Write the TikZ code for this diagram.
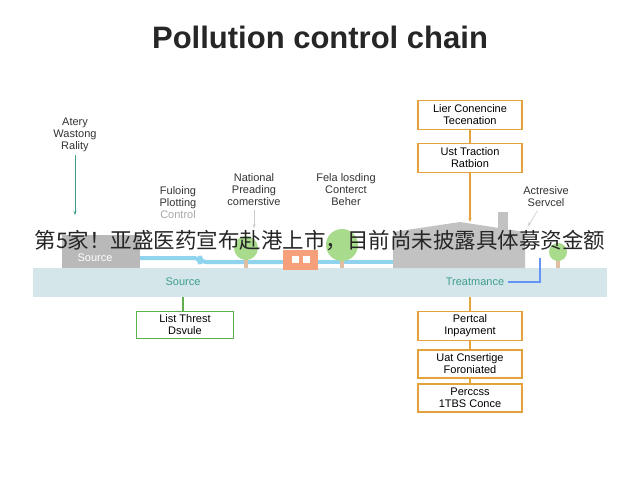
\documentclass[tikz,border=0pt]{standalone}
\usepackage{fontspec}
\setmainfont{Liberation Sans}
\newfontfamily\cjk{Noto Sans CJK SC}
\usetikzlibrary{arrows.meta}
\definecolor{teal1}{HTML}{3E9E8A}
\definecolor{org}{HTML}{E3A23B}
\definecolor{grn}{HTML}{5DB04C}
\definecolor{band}{HTML}{D5E6EA}
\definecolor{pipe}{HTML}{8FD3EE}
\definecolor{gry}{HTML}{A8A8A8}
\definecolor{tree}{HTML}{A9DB8C}
\begin{document}
\begin{tikzpicture}[x=1pt,y=-1pt,
 lbl/.style={font=\fontsize{11}{12}\selectfont,align=center,text=black!80},
 obox/.style={draw=org,line width=1.3pt,fill=white,minimum width=104pt,minimum height=29pt,align=center,font=\fontsize{11}{12}\selectfont},
 gbox/.style={draw=grn,line width=1.3pt,fill=white,minimum width=97pt,minimum height=26pt,align=center,font=\fontsize{11}{12}\selectfont},
 arr/.style={-{Stealth[length=4pt]},line width=0.9pt}]
\useasboundingbox (0,0) rectangle (640,480);
\fill[white] (0,0) rectangle (640,480);
\node[font=\bfseries\fontsize{31}{34}\selectfont,text=black!85] (title) at (320,37) {Pollution control chain};
% band
\fill[band] (33,268) rectangle (607,297);
\node[text=teal1,font=\fontsize{11}{12}\selectfont] (src) at (183,282) {Source};
\node[text=teal1,font=\fontsize{11}{12}\selectfont] (trt) at (475,282) {Treatmance};
\coordinate (pe) at (540,282);
\draw[pipe!70!blue,line width=1.5pt] (trt.east) -- (pe) -- (540,258);
% scene
\fill[gry!80] (62,235) rectangle (140,268);
\node[white,font=\fontsize{11}{12}\selectfont] (ss) at (95,258) {Source};
\draw[pipe,line width=4pt,rounded corners=6pt] (140,258) -- (200,258) -- (200,262) -- (283,262);
\draw[pipe,line width=4pt,rounded corners=6pt] (318,262) -- (393,262);
\fill[gry!70] (393,232) -- (460,222) -- (525,232) -- (525,268) -- (393,268) -- cycle;
\fill[gry!70] (498,212) rectangle (508,232);
\fill[org!60!red!60] (283,250) rectangle (318,270);
\fill[white] (292,256) rectangle (299,263); \fill[white] (303,256) rectangle (310,263);
\foreach \x/\y/\r in {246/248/12, 342/245/16, 558/252/9}{
  \fill[brown!50] (\x-2,\y) rectangle (\x+2,268);
  \fill[tree] (\x,\y) circle (\r);}
% left labels
\node[lbl] (a1) at (75,135) {Atery\\Wastong\\Rality};
\coordinate (a1e) at (75,215);
\draw[arr,teal1] (a1) -- (a1e);
\node[lbl] (a2) at (178,203) {Fuloing\\Plotting\\\textcolor{gry}{Control}};
\node[lbl] (a3) at (254,190) {National\\Preading\\comerstive};
\coordinate (a3e) at (254,228);
\draw[arr,gry!60,line width=0.6pt] (a3) -- (a3e);
\node[lbl] (a4) at (346,190) {Fela losding\\Conterct\\Beher};
\node[lbl] (a5) at (546,197) {Actresive\\Servcel};
\coordinate (a5e) at (528,226);
\draw[arr,gry!60,line width=0.6pt] (a5) -- (a5e);
% orange upper
\node[obox] (o1) at (470,115) {Lier Conencine\\Tecenation};
\node[obox] (o2) at (470,158) {Ust Traction\\Ratbion};
\coordinate (o2e) at (470,222);
\draw[org,line width=1.3pt] (o1) -- (o2);
\draw[arr,org,line width=1.3pt] (o2) -- (o2e);
% lower
\coordinate (gs) at (183,297);
\node[gbox] (g1) at (185,325) {List Threst\\Dsvule};
\draw[grn,line width=1.3pt] (gs) -- (g1.north -| gs);
\coordinate (os) at (470,297);
\node[obox,minimum height=28pt] (o3) at (470,326) {Pertcal\\Inpayment};
\node[obox,minimum height=28pt] (o4) at (470,364) {Uat Cnsertige\\Foroniated};
\node[obox,minimum height=28pt] (o5) at (470,398) {Perccss\\1TBS Conce};
\draw[org,line width=1.3pt] (os) -- (o3) (o3) -- (o4) (o4) -- (o5);
% caption overlay
\node[font=\cjk\fontsize{21.5}{24}\selectfont,text=black!85] (cap) at (320,241) {第5家！亚盛医药宣布赴港上市，目前尚未披露具体募资金额};
\end{tikzpicture}
\end{document}
